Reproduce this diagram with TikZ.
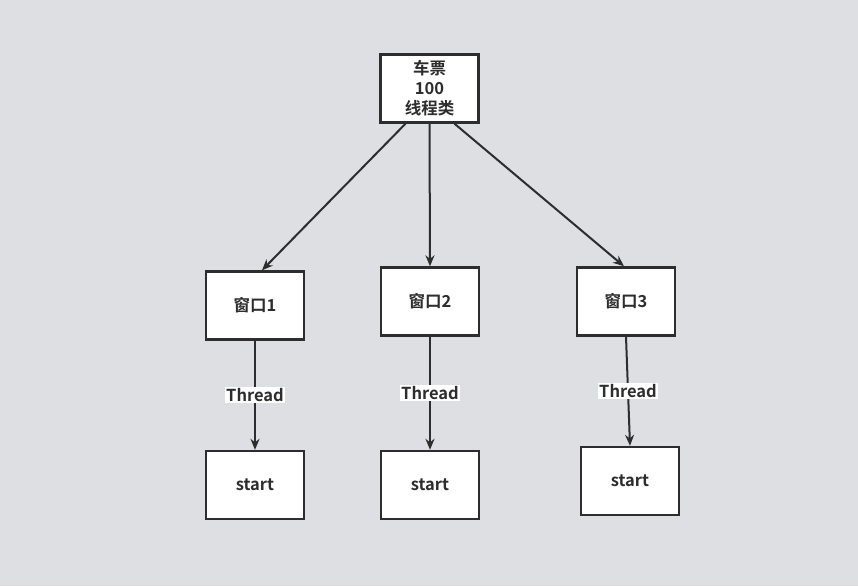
\documentclass[tikz,border=0pt]{standalone}
\usepackage{fontspec}
\setmainfont{Noto Sans CJK SC}[BoldFont={* Bold}]
\usetikzlibrary{arrows.meta}
\definecolor{paper}{RGB}{221,223,227}
\definecolor{ink}{RGB}{45,45,45}
\tikzset{>={Stealth[length=11pt,width=9pt]}}
\tikzset{
  box/.style={draw=ink,line width=2.4pt,fill=white,minimum width=98pt,minimum height=68pt,
    font=\bfseries\fontsize{16.5}{20}\selectfont,text=ink,align=center},
  link/.style={->,draw=ink,line width=2pt},
  tag/.style={fill=white,inner sep=1.5pt,font=\bfseries\fontsize{16.5}{19}\selectfont,text=ink}
}

\begin{document}
\begin{tikzpicture}[x=1pt,y=-1pt]
  \fill[paper] (0,0) rectangle (858,586);
  \useasboundingbox (0,0) rectangle (858,586);

  \node[box] (ticket) at (429.5,88.5) {车票\\100\\线程类};

  \node[box] (win1) at (255,305.5) {窗口1};
  \node[box] (win2) at (430,301.5) {窗口2};
  \node[box] (win3) at (626,301.5) {窗口3};

  \node[box] (start1) at (255,485) {start};
  \node[box] (start2) at (430,485) {start};
  \node[box] (start3) at (630,481) {start};

  % ticket to windows
  \draw[link] ([xshift=-24pt]ticket.south) -- ([xshift=7pt]win1.north);
  \draw[link] (ticket.south) -- (win2.north);
  \draw[link] ([xshift=25pt]ticket.south) -- ([xshift=-2pt]win3.north);

  % windows to start
  \foreach \i in {1,2,3}
    \draw[link] (win\i.south) -- node[tag] {Thread} (start\i.north);
\end{tikzpicture}
\end{document}
